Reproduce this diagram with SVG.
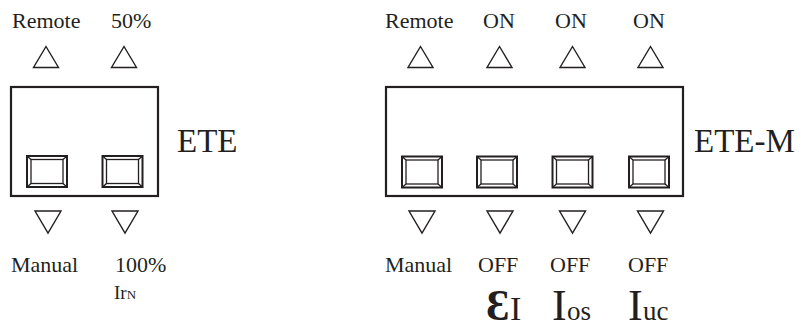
<svg xmlns="http://www.w3.org/2000/svg" width="803" height="325" viewBox="0 0 803 325" font-family="'Liberation Serif', 'DejaVu Serif', serif">
<defs>
<style>
.t{font-family:'Liberation Serif','DejaVu Serif',serif;fill:#231f20}
.lbl{font-size:22px}
.big{font-size:33px}
.box{fill:none;stroke:#231f20;stroke-width:2.2}
.tri{fill:none;stroke:#231f20;stroke-width:1.4;stroke-linejoin:miter}
.btn{fill:none;stroke:#231f20;stroke-width:2}
.btn2{fill:none;stroke:#231f20;stroke-width:1.3}
</style>
<g id="button">
<rect class="btn" x="0" y="0" width="40" height="31"/>
<rect class="btn2" x="4" y="3.5" width="32" height="24"/>
<path class="btn2" d="M0,0 L4,3.5 M40,0 L36,3.5 M0,31 L4,27.5 M40,31 L36,27.5"/>
</g>
<path id="up" class="tri" d="M0,0 L-12.5,21 L12.5,21 Z"/>
<path id="down" class="tri" d="M-13,0 L13,0 L0,22 Z"/>
</defs>

<g id="ete">
<rect class="box" x="11" y="87" width="147" height="109"/>
<use href="#button" x="27" y="156"/>
<use href="#button" x="102.5" y="156"/>
<use href="#up" x="46" y="46.5"/>
<use href="#up" x="124" y="46.5"/>
<use href="#down" x="48" y="211"/>
<use href="#down" x="125" y="211"/>
<text class="t lbl" x="12" y="28">Remote</text>
<text class="t lbl" x="111" y="28">50%</text>
<text class="t big" x="177" y="152">ETE</text>
<text class="t lbl" x="11" y="272">Manual</text>
<text class="t lbl" x="115" y="272">100%</text>
<text class="t" x="114" y="299" style="font-size:19px">Ir<tspan style="font-size:13px">N</tspan></text>
</g>

<g id="ete-m">
<rect class="box" x="386" y="87" width="297" height="109"/>
<use href="#button" x="402" y="156.5"/>
<use href="#button" x="477" y="156.5"/>
<use href="#button" x="552.5" y="156.5"/>
<use href="#button" x="629" y="156.5"/>
<use href="#up" x="420.5" y="46.5"/>
<use href="#up" x="499.5" y="46.5"/>
<use href="#up" x="572.5" y="46.5"/>
<use href="#up" x="650.5" y="46.5"/>
<use href="#down" x="422" y="211"/>
<use href="#down" x="500" y="211"/>
<use href="#down" x="572.5" y="211"/>
<use href="#down" x="650.5" y="211"/>
<text class="t lbl" x="385" y="28">Remote</text>
<text class="t lbl" x="483" y="28">ON</text>
<text class="t lbl" x="555" y="28">ON</text>
<text class="t lbl" x="633" y="28">ON</text>
<text class="t big" x="694" y="152">ETE-M</text>
<text class="t lbl" x="385" y="272">Manual</text>
<text class="t lbl" x="478" y="272">OFF</text>
<text class="t lbl" x="550" y="272">OFF</text>
<text class="t lbl" x="628" y="272">OFF</text>
<text class="t" x="486" y="320" style="font-size:44px;font-weight:bold">Ɛ</text>
<text class="t" x="510" y="320" style="font-size:34px">I</text>
<text class="t" x="552" y="320" style="font-size:44px">I</text>
<text class="t" x="567" y="320" style="font-size:27px">os</text>
<text class="t" x="628" y="320" style="font-size:44px">I</text>
<text class="t" x="643" y="320" style="font-size:27px">uc</text>
</g>
</svg>
